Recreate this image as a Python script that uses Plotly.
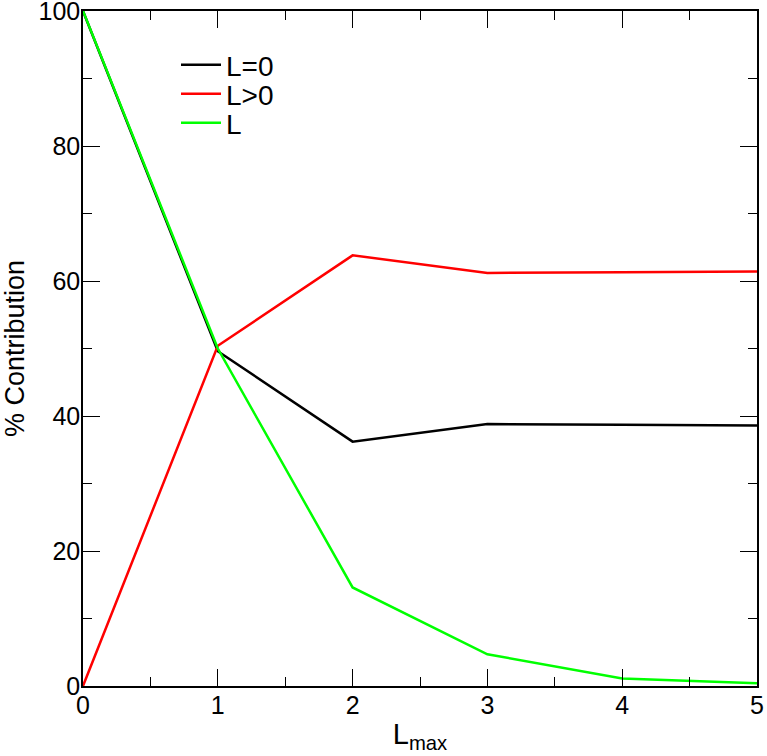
import plotly.graph_objects as go

lmax = [0, 1, 2, 3, 4, 5]
l_zero = [100, 49.6, 36.2, 38.8, 38.7, 38.6]
l_pos = [0, 50.4, 63.8, 61.2, 61.3, 61.4]
l_green = [100, 50.0, 14.6, 4.7, 1.1, 0.4]

names = ["L=0", "L>0", "L"]
colors = ["#000000", "#ff0000", "#00ff00"]
legend_ids = ["legend", "legend2", "legend3"]

FONT = "Liberation Sans, Arial, sans-serif"

fig = go.Figure()
for name, ys, c, lg in zip(names, [l_zero, l_pos, l_green], colors, legend_ids):
    fig.add_trace(go.Scatter(x=lmax, y=ys, mode="lines", name=name, legend=lg,
                             line=dict(color=c, width=2.5)))

axis_common = dict(
    showgrid=False, zeroline=False, showline=True, linecolor="black", linewidth=1.5,
    mirror="allticks", ticks="inside", ticklen=17, tickwidth=1.2, tickcolor="black",
    tickfont=dict(size=25, color="black", family=FONT),
    automargin=False, ticklabeloverflow="allow", ticklabelstandoff=-4,
)

fig.update_xaxes(range=[0, 5], dtick=1, tick0=0,
                 minor=dict(dtick=0.5, ticks="inside", ticklen=9, tickcolor="black", tickwidth=1.2),
                 title=dict(text="L<sub>max</sub>", font=dict(size=29, color="black", family=FONT), standoff=6),
                 **axis_common)
fig.update_yaxes(range=[0, 100], dtick=20, tick0=0,
                 minor=dict(dtick=10, ticks="inside", ticklen=9, tickcolor="black", tickwidth=1.2),
                 title=dict(text="% Contribution", font=dict(size=27, color="black", family=FONT), standoff=17),
                 **axis_common)

T, L_M, PH, PW = 11, 83, 675, 674
leg_common = dict(x=(176 - L_M) / PW, xanchor="left", yanchor="middle", bgcolor="rgba(0,0,0,0)",
                  font=dict(size=28, color="black", family=FONT), itemwidth=40)
rows = [65, 94, 123]
fig.update_layout(
    width=767, height=756,
    margin=dict(l=L_M, r=10, t=T, b=70),
    plot_bgcolor="white", paper_bgcolor="white",
    font=dict(family=FONT, color="black"),
    legend=dict(y=1 - (rows[0] - T) / PH, **leg_common),
    legend2=dict(y=1 - (rows[1] - T) / PH, **leg_common),
    legend3=dict(y=1 - (rows[2] - T) / PH, **leg_common),
    showlegend=True,
)

fig.write_html("out.html", config={"displayModeBar": False},
               post_script="document.body.style.margin='0';")
